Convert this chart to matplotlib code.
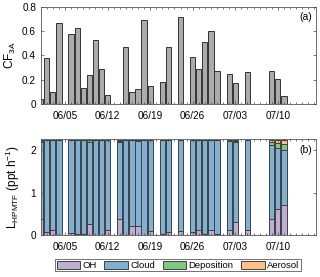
import matplotlib
matplotlib.use("Agg")
import matplotlib.pyplot as plt
import matplotlib.dates as mdates
import pandas as pd

plt.rcParams['font.family'] = ['Liberation Sans', 'DejaVu Sans']
plt.rcParams['mathtext.fontset'] = 'custom'
plt.rcParams['mathtext.rm'] = 'Liberation Sans'
plt.rcParams['mathtext.it'] = 'Liberation Sans:italic'
plt.rcParams['mathtext.default'] = 'regular'

# panel (a): CF_3A per day
cf_dates = ["06/01", "06/02", "06/03", "06/04", "06/06", "06/07", "06/08", "06/09",
            "06/10", "06/11", "06/12", "06/15", "06/16", "06/17", "06/18", "06/19",
            "06/21", "06/22", "06/24", "06/26", "06/27", "06/28", "06/29", "06/30",
            "07/02", "07/03", "07/05", "07/09", "07/10", "07/11"]
cf_vals = [0.04, 0.38, 0.10, 0.67, 0.58, 0.63, 0.13, 0.24,
           0.53, 0.29, 0.076, 0.47, 0.10, 0.127, 0.69, 0.15,
           0.18, 0.47, 0.715, 0.39, 0.29, 0.51, 0.60, 0.27,
           0.245, 0.175, 0.26, 0.275, 0.21, 0.068]

# panel (b): HPMTF loss terms (ppt/h)
loss_dates = ["06/01", "06/02", "06/03", "06/04", "06/06", "06/07", "06/08", "06/09",
              "06/10", "06/11", "06/12", "06/14", "06/15", "06/16", "06/17", "06/18",
              "06/19", "06/21", "06/22", "06/24", "06/26", "06/27", "06/28", "06/29",
              "06/30", "07/02", "07/03", "07/05", "07/09", "07/10", "07/11"]
oh = [0.38, 0.08, 0.13, 0.01, 0.04, 0.02, 0.02, 0.27,
      0.01, 0.00, 0.13, 0.38, 0.01, 0.21, 0.21, 0.01,
      0.09, 0.03, 0.06, 0.09, 0.06, 0.13, 0.02, 0.11,
      0.02, 0.11, 0.30, 0.11, 0.38, 0.62, 0.70]
cloud = [1.83, 2.17, 2.11, 2.24, 2.21, 2.23, 2.23, 1.93,
         2.24, 2.25, 2.11, 1.81, 2.24, 2.03, 2.01, 2.24,
         2.15, 2.22, 2.19, 2.16, 2.19, 2.11, 2.22, 2.13,
         2.23, 2.11, 1.91, 2.13, 1.75, 1.44, 1.31]
deposition = [0.02, 0.00, 0.01, 0.00, 0.00, 0.00, 0.00, 0.04,
              0.00, 0.00, 0.01, 0.03, 0.00, 0.01, 0.03, 0.00,
              0.01, 0.00, 0.00, 0.00, 0.00, 0.01, 0.01, 0.01,
              0.00, 0.01, 0.02, 0.01, 0.08, 0.11, 0.13]
aerosol = [0.02, 0.00, 0.00, 0.00, 0.00, 0.00, 0.00, 0.01,
           0.00, 0.00, 0.00, 0.03, 0.00, 0.00, 0.00, 0.00,
           0.00, 0.00, 0.00, 0.00, 0.00, 0.00, 0.00, 0.00,
           0.00, 0.02, 0.02, 0.00, 0.04, 0.08, 0.11]

tick_labels = ["06/05", "06/12", "06/19", "06/26", "07/03", "07/10"]


def to_dates(lst):
    return pd.to_datetime(["2019/" + s for s in lst])


x_cf = to_dates(cf_dates)
x_loss = to_dates(loss_dates)
x_ticks = to_dates(tick_labels)

fig = plt.figure(figsize=(3.2, 2.77), dpi=100)
ax1 = fig.add_axes([0.128, 0.6245, 0.859, 0.3505])
ax2 = fig.add_axes([0.128, 0.1516, 0.859, 0.3466])

w = 0.86
ax1.bar(x_cf, cf_vals, width=w, color='#ababab', edgecolor='#333333', linewidth=0.7)

bottom = [0.0] * len(oh)
colors = ['#beaed4', '#80b1d3', '#7fc97f', '#fdc086']
names = ['OH', 'Cloud', 'Deposition', 'Aerosol']
for vals, col, nm in zip([oh, cloud, deposition, aerosol], colors, names):
    ax2.bar(x_loss, vals, width=w, bottom=bottom, color=col,
            edgecolor='#404040', linewidth=0.7, label=nm)
    bottom = [b + v for b, v in zip(bottom, vals)]

xmin = pd.Timestamp("2019-06-01 01:00")
xmax = pd.Timestamp("2019-07-16 06:00")
for ax in (ax1, ax2):
    ax.set_xlim(xmin, xmax)
    ax.set_xticks(x_ticks)
    ax.set_xticklabels(tick_labels)
    ax.xaxis.set_minor_locator(mdates.DayLocator())
    ax.tick_params(which='both', direction='in', top=True, right=True,
                   labelsize=7.2, width=0.5, color='#444444')
    ax.tick_params(which='major', length=2.5)
    ax.tick_params(which='minor', length=1.3)
    ax.tick_params(axis='x', pad=5)
    for sp in ax.spines.values():
        sp.set_linewidth(0.6)
        sp.set_color('#555555')

ax1.set_ylim(0, 0.8)
ax1.set_yticks([0, 0.2, 0.4, 0.6, 0.8])
ax1.set_yticklabels(['0', '0.2', '0.4', '0.6', '0.8'])
ax1.set_ylabel('CF$_{3A}$', fontsize=8.5, labelpad=3)
ax1.text(0.985, 0.9, '(a)', transform=ax1.transAxes, ha='right', va='center', fontsize=7.5)

ax2.set_ylim(0, 2.27)
ax2.set_yticks([0, 1, 2])
ax2.set_ylabel('L$_{HPMTF}$ (ppt h$^{-1}$)', fontsize=8.5, labelpad=6)
ax2.text(0.985, 0.89, '(b)', transform=ax2.transAxes, ha='right', va='center', fontsize=7.5)

leg = fig.legend(loc='center', bbox_to_anchor=(0.556, 0.042), ncol=4, fontsize=6.8,
                 frameon=True, fancybox=False, edgecolor='#333333',
                 handlelength=2.5, handleheight=0.9, handletextpad=0.25,
                 columnspacing=0.8, borderpad=0.15, borderaxespad=0)
leg.get_frame().set_linewidth(0.6)

fig.savefig('out.png', dpi=100)
